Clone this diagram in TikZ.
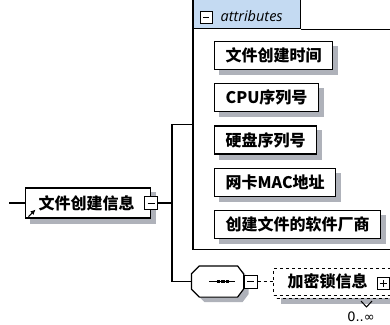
\documentclass[tikz,border=0pt]{standalone}
\usepackage{fontspec}
\newfontfamily\cjk{Noto Sans CJK SC}
\newfontfamily\uifont{Open Sans}
\newfontfamily\symfont{DejaVu Sans}
\usetikzlibrary{positioning,arrows.meta}
\pgfdeclarelayer{background}
\pgfsetlayers{background,main}
\definecolor{tabblue}{RGB}{196,218,242}
\definecolor{shadowgray}{RGB}{175,178,186}
\begin{document}
\begin{tikzpicture}[x=1pt,y=-1pt,line width=1.2pt,
    elem/.style={rectangle,draw,fill=white,inner xsep=11pt,inner ysep=0pt,
                 minimum height=28pt,font=\cjk\bfseries\fontsize{16}{16}\selectfont},
    dashbox/.style={rectangle,draw,dashed,line width=1pt,fill=white,inner xsep=14pt,inner ysep=0pt,
                 minimum height=27pt,text width=92pt,align=left,font=\cjk\bfseries\fontsize{16}{16}\selectfont},
    minusbox/.style={rectangle,draw,line width=1pt,fill=white,minimum size=13pt,inner sep=0pt,
                 path picture={\draw[line width=1pt] ([xshift=3pt]path picture bounding box.west)
                                 -- ([xshift=-3pt]path picture bounding box.east);}},
    plusbox/.style={rectangle,draw,line width=1pt,fill=white,minimum size=12pt,inner sep=0pt,
                 path picture={\draw[line width=1pt] ([xshift=2.5pt]path picture bounding box.west)
                                 -- ([xshift=-2.5pt]path picture bounding box.east)
                                 ([yshift=2.5pt]path picture bounding box.south)
                                 -- ([yshift=-2.5pt]path picture bounding box.north);}},
    seqshadow/.style={fill=shadowgray},
    seqbody/.style={draw,fill=white}
  ]
  \useasboundingbox (0,0) rectangle (390,324);

  % root element
  \node[elem,anchor=west,minimum height=30pt,inner xsep=13pt] (e0) at (25,203) {文件创建信息\kern3pt};
  \node[minusbox] (m0) at (e0.east) {};
  \draw[-{Latex[length=5pt,width=5pt]},line width=1.2pt] ([xshift=3.5pt,yshift=2pt]e0.south west) -- ++(7,-7);
  \draw (9,203) -- (e0.west);
  \coordinate (fork) at (172,203);
  \draw (m0) -- (fork);

  % attributes group
  \node[anchor=north west,minimum width=200pt,minimum height=248pt,inner sep=0pt] (attrs) at (193,0) {};
  \node[draw,fill=tabblue,anchor=north west,minimum width=107pt,minimum height=30pt,inner sep=0pt] (tab) at (193,-2) {};
  \draw (tab.south east) -- (tab.south east -| attrs.east);
  \draw (attrs.north west) -- (attrs.south west) -- (attrs.south east);
  \node[minusbox,minimum size=12pt] (m1) at (206,17) {};
  \node[anchor=west,inner sep=0pt,font=\uifont\itshape\fontsize{14.5}{14.5}\selectfont] (lbl) at (220,16) {attributes};

  \node[elem,anchor=north west] (a1) at (214,41) {文件创建时间};
  \node[elem,below=13pt of a1.south west,anchor=north west] (a2) {CPU序列号};
  \node[elem,below=13pt of a2.south west,anchor=north west] (a3) {硬盘序列号};
  \node[elem,below=13pt of a3.south west,anchor=north west] (a4) {网卡MAC地址};
  \node[elem,below=13pt of a4.south west,anchor=north west] (a5) {创建文件的软件厂商};
  \draw (fork) |- (attrs.west);

  % sequence
  \node[minimum width=51pt,minimum height=30pt,inner sep=0pt] (s0) at (217.5,281.5) {};
  \foreach \d/\st in {5/seqshadow,0/seqbody}
    \path[\st] ([xshift=8pt+\d pt,yshift=-\d pt]s0.north west) -- ([xshift=-6pt+\d pt,yshift=-\d pt]s0.north east)
      -- ([xshift=\d pt,yshift=-8pt-\d pt]s0.north east) -- ([xshift=\d pt,yshift=8pt-\d pt]s0.south east)
      -- ([xshift=-6pt+\d pt,yshift=-\d pt]s0.south east) -- ([xshift=8pt+\d pt,yshift=-\d pt]s0.south west)
      -- ([xshift=\d pt,yshift=8pt-\d pt]s0.south west) -- ([xshift=\d pt,yshift=-8pt-\d pt]s0.north west) -- cycle;
  \draw (fork) |- (s0.west);
  \draw[line width=1.2pt] ([xshift=-8.5pt]s0.center) -- ([xshift=17.5pt]s0.center);
  \foreach \dx in {1,5.5,10}
    \fill ([xshift=\dx pt]s0.center) +(-1.8pt,-1.8pt) rectangle +(1.8pt,1.8pt);
  \node[minusbox,anchor=west] (m2) at (s0.east) {};

  % repeated element
  \node[dashbox,anchor=west] (d1) at (276,284.5) {};
  \node[dashbox,anchor=west] (d0) at (273,281.5) {加密锁信息};
  \draw[dashed,line width=1pt] (m2) -- (d0);
  \node[plusbox] (p0) at (383,283) {};
  \draw[line width=1pt] (361,301) -- (366.5,307) -- (372,301);
  \node[font=\symfont\fontsize{13}{13}\selectfont] (occ) at (361,317) {0..∞};

  % drop shadows
  \begin{pgfonlayer}{background}
    \foreach \n in {e0,a1,a2,a3,a4,a5,d1}
      \fill[shadowgray] ([xshift=5pt,yshift=-5pt]\n.south west) rectangle ([xshift=5pt,yshift=-5pt]\n.north east);
  \end{pgfonlayer}
\end{tikzpicture}
\end{document}
